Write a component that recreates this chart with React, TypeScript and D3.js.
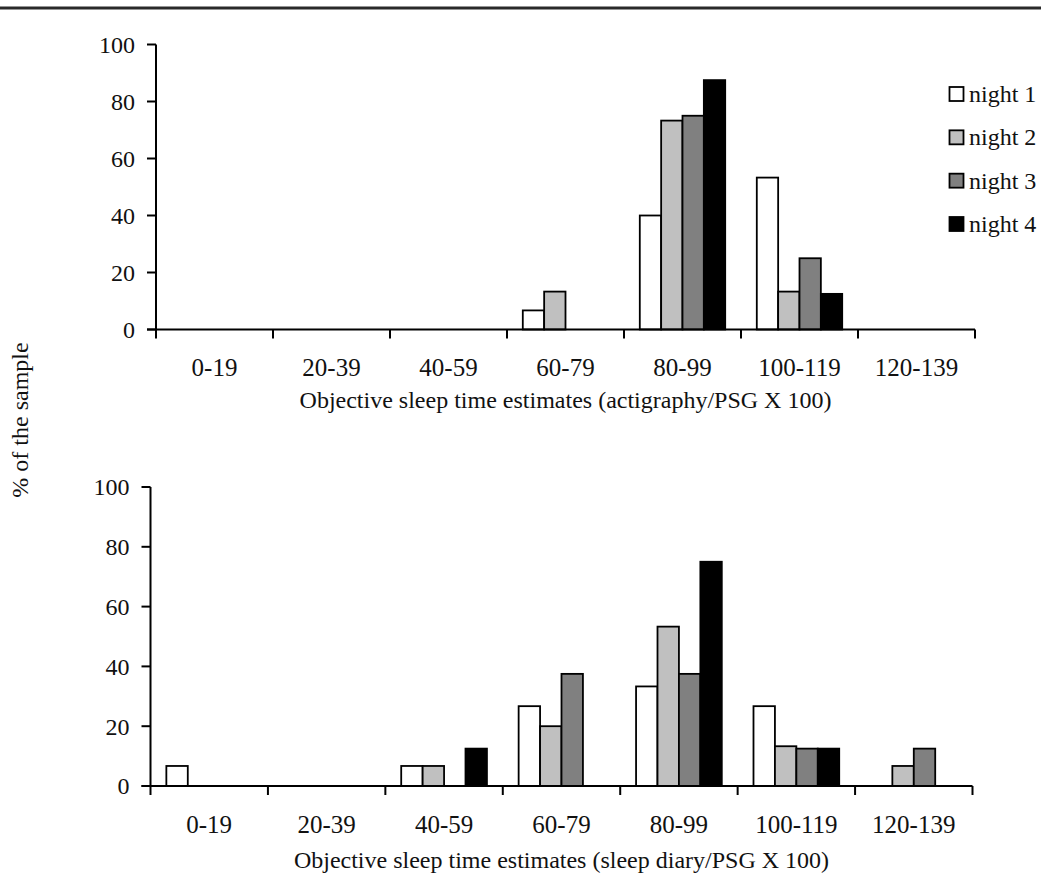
import React from 'react';
import * as d3 from 'd3';

const categories = ['0-19', '20-39', '40-59', '60-79', '80-99', '100-119', '120-139'];
const nights = ['night 1', 'night 2', 'night 3', 'night 4'];
const nightFills = ['#ffffff', '#c0c0c0', '#808080', '#000000'];
const yTicks = [0, 20, 40, 60, 80, 100];

// top panel: actigraphy / PSG
const actigraphyNight1 = [0, 0, 0, 6.7, 40, 53.3, 0];
const actigraphyNight2 = [0, 0, 0, 13.3, 73.3, 13.3, 0];
const actigraphyNight3 = [0, 0, 0, 0, 75, 25, 0];
const actigraphyNight4 = [0, 0, 0, 0, 87.5, 12.5, 0];

// bottom panel: sleep diary / PSG
const diaryNight1 = [6.7, 0, 6.7, 26.7, 33.3, 26.7, 0];
const diaryNight2 = [0, 0, 6.7, 20, 53.3, 13.3, 6.7];
const diaryNight3 = [0, 0, 0, 37.5, 37.5, 12.5, 12.5];
const diaryNight4 = [0, 0, 12.5, 0, 75, 12.5, 0];

const FONT = '"Liberation Serif", "Times New Roman", serif';

type PanelProps = {
  series: number[][];
  left: number;
  right: number;
  top: number;
  bottom: number;
  title: string;
  labelDy: number;
  titleDy: number;
};

function Panel({ series, left, right, top, bottom, title, labelDy, titleDy }: PanelProps) {
  const x = d3.scaleBand<string>().domain(categories).range([left, right]);
  const band = x.bandwidth();
  const inset = band * 0.135;
  const x1 = d3.scaleBand<number>().domain(d3.range(nights.length)).range([inset, band - inset]);
  const y = d3.scaleLinear().domain([0, 100]).range([bottom, top]);
  const tickLen = 9;
  const boundaries = d3.range(categories.length + 1).map(i => left + i * band);

  return (
    <g>
      {categories.map((c, ci) =>
        series.map((vals, si) =>
          vals[ci] > 0 ? (
            <rect
              key={c + si}
              x={(x(c) as number) + (x1(si) as number)}
              y={y(vals[ci])}
              width={x1.bandwidth()}
              height={y(0) - y(vals[ci])}
              fill={nightFills[si]}
              stroke="#000"
              strokeWidth={1.8}
            />
          ) : null
        )
      )}
      {/* y axis */}
      <line x1={left} x2={left} y1={y(100)} y2={y(0)} stroke="#000" strokeWidth={2} />
      {yTicks.map(t => (
        <g key={t}>
          <line x1={left - tickLen} x2={left} y1={y(t)} y2={y(t)} stroke="#000" strokeWidth={2} />
          <text x={left - 21} y={y(t)} dy="0.35em" textAnchor="end" fontSize={24} fontFamily={FONT} fill="#111">
            {t}
          </text>
        </g>
      ))}
      {/* x axis */}
      <line x1={left - tickLen} x2={right} y1={y(0)} y2={y(0)} stroke="#000" strokeWidth={2} />
      {boundaries.map((bx, i) => (
        <line key={i} x1={bx} x2={bx} y1={y(0)} y2={y(0) + tickLen} stroke="#000" strokeWidth={2} />
      ))}
      {categories.map(c => (
        <text
          key={c}
          x={(x(c) as number) + band / 2}
          y={y(0) + labelDy}
          textAnchor="middle"
          fontSize={25}
          fontFamily={FONT}
          fill="#111"
        >
          {c}
        </text>
      ))}
      <text x={(left + right) / 2} y={y(0) + titleDy} textAnchor="middle" fontSize={24} fontFamily={FONT} fill="#111">
        {title}
      </text>
    </g>
  );
}

export default function App() {
  const legendY = d3.scaleLinear().domain([0, 3]).range([87, 217]);
  return (
    <svg width={1041} height={876} style={{ position: 'absolute', left: 0, top: 0, background: '#fff' }}>
      <rect x={0} y={0} width={1041} height={876} fill="#fff" />
      <rect x={0} y={6.5} width={1041} height={3} fill="#2a2a2a" />
      <Panel
        series={[actigraphyNight1, actigraphyNight2, actigraphyNight3, actigraphyNight4]}
        left={156}
        right={975}
        top={44.5}
        bottom={329.5}
        title="Objective sleep time estimates (actigraphy/PSG X 100)"
        labelDy={46}
        titleDy={78}
      />
      <Panel
        series={[diaryNight1, diaryNight2, diaryNight3, diaryNight4]}
        left={150.5}
        right={972.5}
        top={487}
        bottom={786}
        title="Objective sleep time estimates (sleep diary/PSG X 100)"
        labelDy={47}
        titleDy={82}
      />
      <text
        transform={`translate(28, 420) rotate(-90)`}
        textAnchor="middle"
        fontSize={24}
        fontFamily={FONT}
        fill="#111"
      >
        % of the sample
      </text>
      {nights.map((n, i) => (
        <g key={n}>
          <rect x={949.5} y={legendY(i)} width={14} height={14} fill={nightFills[i]} stroke="#000" strokeWidth={1.8} />
          <text x={969} y={legendY(i) + 15} fontSize={24} fontFamily={FONT} fill="#111">
            {n}
          </text>
        </g>
      ))}
    </svg>
  );
}
